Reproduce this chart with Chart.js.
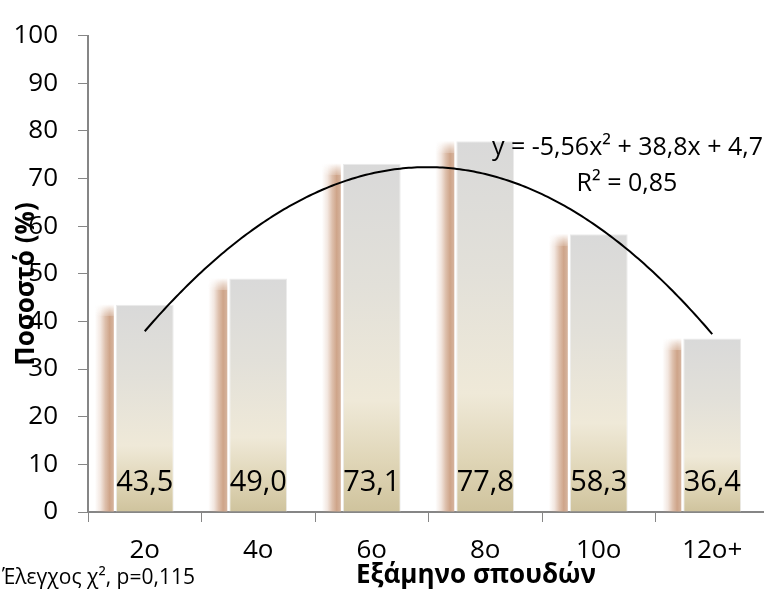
<!DOCTYPE html>
<html>
<head>
<meta charset="utf-8">
<script src="https://cdn.jsdelivr.net/npm/chart.js@4"></script>
<style>
  body { margin: 0; background: #fff; }
  #wrap { width: 764px; height: 590px; overflow: hidden; }
</style>
</head>
<body>
<div id="wrap"><canvas id="chart" width="780" height="590"></canvas></div>
<script>
const SEMESTERS = ['2o', '4o', '6o', '8o', '10o', '12o+'];
const PERCENT = [43.5, 49.0, 73.1, 77.8, 58.3, 36.4];
const Y_MIN = 0, Y_MAX = 100, Y_STEP = 10;
// 2nd order polynomial trendline: a*x^2 + b*x + c, x = 1..n
const TREND_COEF = [-5.56, 38.8, 4.7];
const R_SQUARED = 0.85;
const CHI_P = 0.115;

const FONT = '"Open Sans", "Noto Sans", sans-serif';
const comma = (v, d) => v.toFixed(d).replace('.', ',');

function barFill(c) {
    const chart = c.chart;
    if (!chart.chartArea) return '#e3dfd0';
    const y = chart.scales.y;
    const top = y.getPixelForValue(c.raw);
    const bot = y.getPixelForValue(0);
    const g = chart.ctx.createLinearGradient(0, top, 0, bot);
    g.addColorStop(0, '#d9d9d9');
    g.addColorStop(0.35, '#e2e0d9');
    g.addColorStop(0.68, '#efe9d8');
    g.addColorStop(0.86, '#dfd5b6');
    g.addColorStop(1, '#cfc39d');
    return g;
}

// brownish soft shadow strip on the left of every bar
const barShadow = {
    id: 'barShadow',
    beforeDatasetsDraw(chart) {
        const ctx = chart.ctx;
        chart.getDatasetMeta(0).data.forEach(bar => {
            const left = bar.x - bar.width / 2;
            const x0 = left - 21, x1 = left - 2;
            const g = ctx.createLinearGradient(x0, 0, x1, 0);
            g.addColorStop(0, 'rgba(212,172,148,0)');
            g.addColorStop(0.3, 'rgba(212,172,148,0.3)');
            g.addColorStop(0.55, 'rgba(210,170,144,0.75)');
            g.addColorStop(0.78, 'rgba(206,164,137,1)');
            g.addColorStop(1, 'rgba(214,180,158,1)');
            ctx.save();
            ctx.fillStyle = g;
            const fade = 11;
            for (let k = 0; k < fade; k++) {
                ctx.globalAlpha = (k + 1) / (fade + 1);
                ctx.fillRect(x0, bar.y + k, x1 - x0, 1);
            }
            ctx.globalAlpha = 1;
            ctx.fillRect(x0, bar.y + fade, x1 - x0, bar.base - bar.y - fade);
            ctx.restore();
        });
    }
};

const barLabels = {
    id: 'barLabels',
    afterDatasetsDraw(chart) {
        const ctx = chart.ctx;
        ctx.save();
        ctx.font = '29px ' + FONT;
        ctx.fillStyle = '#000';
        ctx.textAlign = 'center';
        ctx.textBaseline = 'alphabetic';
        chart.getDatasetMeta(0).data.forEach((bar, i) => {
            ctx.fillText(comma(PERCENT[i], 1), bar.x, bar.base - 21);
        });
        ctx.restore();
    }
};

const trendLine = {
    id: 'trendLine',
    afterDatasetsDraw(chart) {
        const ctx = chart.ctx;
        const xs = chart.scales.x, ys = chart.scales.y;
        const [a, b, c] = TREND_COEF;
        ctx.save();
        ctx.beginPath();
        ctx.strokeStyle = '#000';
        ctx.lineWidth = 2;
        const n = PERCENT.length;
        for (let k = 0; k <= 200; k++) {
            const t = 1 + (n - 1) * k / 200;
            const px = xs.getPixelForValue(t - 1);
            const py = ys.getPixelForValue(a * t * t + b * t + c);
            k ? ctx.lineTo(px, py) : ctx.moveTo(px, py);
        }
        ctx.stroke();

        ctx.fillStyle = '#000';
        ctx.font = '25px ' + FONT;
        ctx.textBaseline = 'middle';
        ctx.textAlign = 'right';
        const sgn = v => (v < 0 ? '- ' : '+ ') + comma(Math.abs(v), 1);
        ctx.fillText('y = ' + comma(a, 2) + 'x² ' + sgn(b) + 'x ' + sgn(c), 763, 148);
        ctx.textAlign = 'center';
        ctx.fillText('R² = ' + comma(R_SQUARED, 2), 627, 184);
        ctx.restore();
    }
};

const titles = {
    id: 'titles',
    afterDraw(chart) {
        const ctx = chart.ctx;
        ctx.save();
        ctx.fillStyle = '#000';
        ctx.textBaseline = 'middle';
        ctx.textAlign = 'center';
        ctx.font = 'bold 26px ' + FONT;
        ctx.fillText('Εξάμηνο σπουδών', 476, 576);
        ctx.save();
        ctx.translate(27, 284);
        ctx.rotate(-Math.PI / 2);
        ctx.fillText('Ποσοστό (%)', 0, 0);
        ctx.restore();
        ctx.textAlign = 'left';
        ctx.font = '21px ' + FONT;
        ctx.fillText('Έλεγχος χ², p=' + comma(CHI_P, 3), 2, 578);
        ctx.restore();
    }
};

new Chart(document.getElementById('chart'), {
    type: 'bar',
    data: {
        labels: SEMESTERS,
        datasets: [{
            data: PERCENT,
            backgroundColor: barFill,
            borderColor: '#ebebeb',
            borderWidth: 1,
            categoryPercentage: 1,
            barPercentage: 0.51
        }]
    },
    options: {
        responsive: false,
        animation: false,
        devicePixelRatio: 1,
        layout: { padding: { top: 26, right: 11, left: 0, bottom: 0 } },
        plugins: { legend: { display: false }, tooltip: { enabled: false } },
        scales: {
            x: {
                afterFit: s => { s.height = 78; },
                border: { color: '#868686', width: 2 },
                grid: { drawOnChartArea: false, tickLength: 10, color: '#868686', lineWidth: 1 },
                ticks: { color: '#000', font: { family: FONT, size: 26 }, padding: 13, maxRotation: 0 }
            },
            y: {
                min: Y_MIN, max: Y_MAX,
                afterFit: s => { s.width = 88; },
                border: { color: '#868686', width: 2 },
                grid: { drawOnChartArea: false, tickLength: 10, color: '#868686', lineWidth: 1 },
                ticks: { stepSize: Y_STEP, color: '#000', font: { family: FONT, size: 26 }, padding: 20 }
            }
        }
    },
    plugins: [barShadow, barLabels, trendLine, titles]
});
</script>
</body>
</html>
